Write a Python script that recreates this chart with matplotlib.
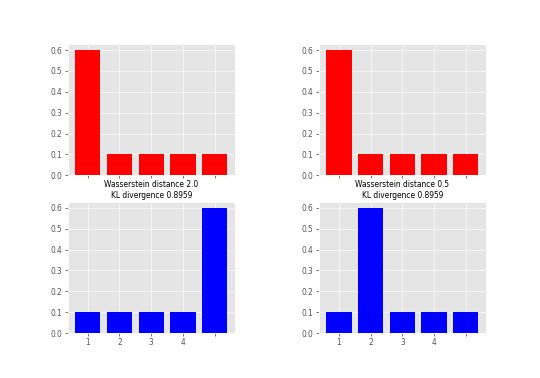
import numpy as np
import matplotlib
matplotlib.use('Agg')
import matplotlib.pyplot as plt

plt.style.use('ggplot')
s = 0.75  # the reference looks like a scaled-down render
plt.rcParams.update({
    'xtick.major.size': 3.5 * s,
    'ytick.major.size': 3.5 * s,
    'xtick.major.pad': 3.5 * s,
    'ytick.major.pad': 3.5 * s,
    'grid.linewidth': 0.8 * s,
})

x = np.arange(5)
top_left = [0.6, 0.1, 0.1, 0.1, 0.1]
top_right = [0.6, 0.1, 0.1, 0.1, 0.1]
bottom_left = [0.1, 0.1, 0.1, 0.1, 0.6]
bottom_right = [0.1, 0.6, 0.1, 0.1, 0.1]
bottom_ticklabels = ['1', '2', '3', '4', '']
titles = ['Wasserstein distance 2.0\nKL divergence 0.8959',
          'Wasserstein distance 0.5\nKL divergence 0.8959']

fig, axes = plt.subplots(2, 2, figsize=(7.5, 5.25), dpi=72)
fig.subplots_adjust(left=0.125, right=0.9, top=0.884, bottom=0.119,
                    wspace=0.5, hspace=0.2)

for ax, vals in zip(axes[0], [top_left, top_right]):
    ax.bar(x, vals, width=0.8, color='red', edgecolor='none')
    ax.set_xticks(x)
    ax.set_xticklabels([''] * 5)

for ax, vals, t in zip(axes[1], [bottom_left, bottom_right], titles):
    ax.bar(x, vals, width=0.8, color='blue', edgecolor='none')
    ax.set_xticks(x)
    ax.set_xticklabels(bottom_ticklabels)
    ax.set_title(t, fontsize=10 * s, pad=5 * s)

for ax in axes.flat:
    ax.set_yticks([0.0, 0.1, 0.2, 0.3, 0.4, 0.5, 0.6])
    ax.tick_params(labelsize=10 * s)

fig.savefig('out.png', dpi=72)
